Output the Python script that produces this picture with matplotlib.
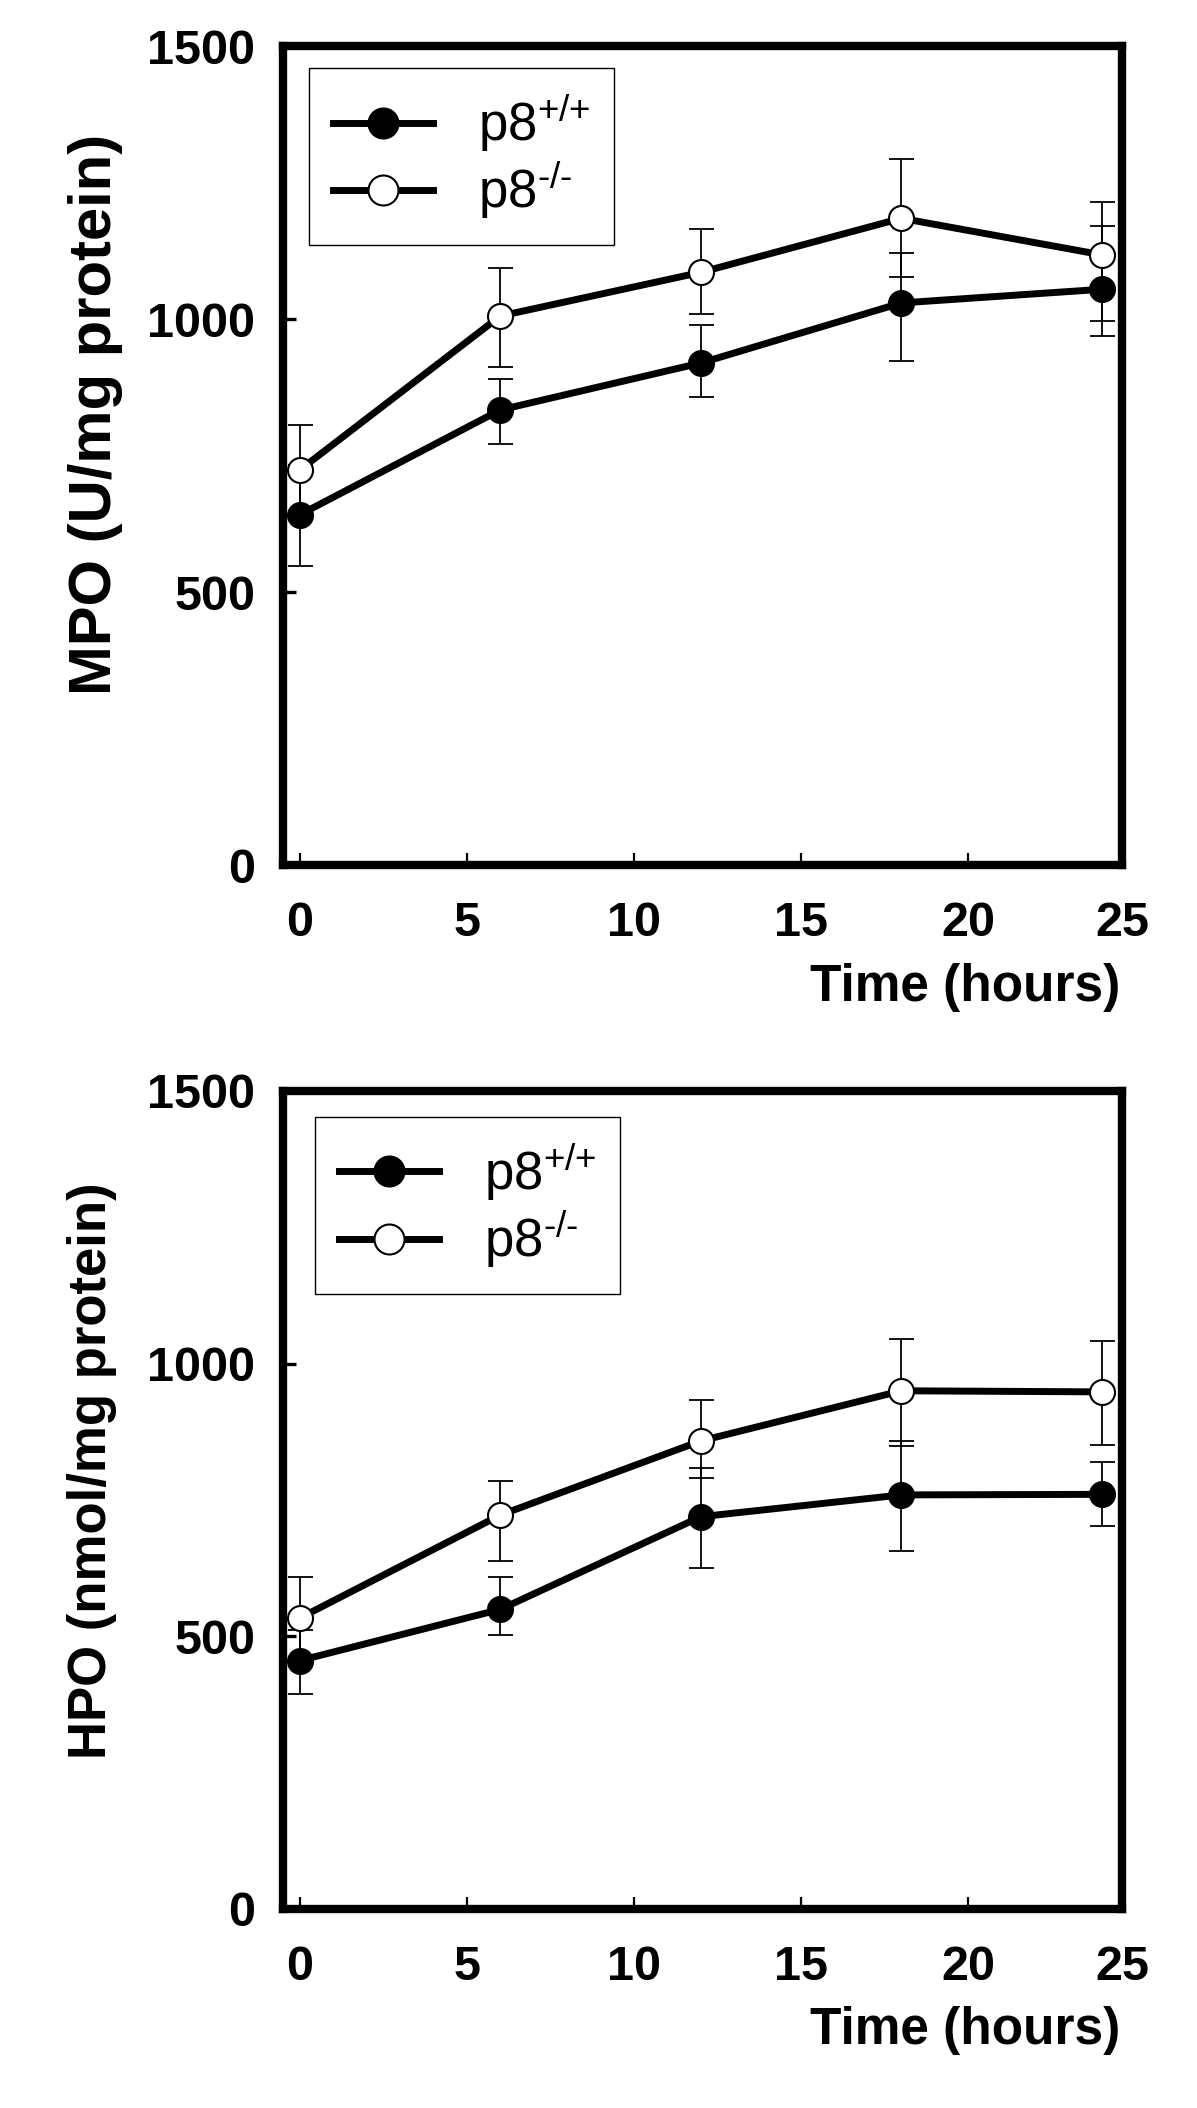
import matplotlib
matplotlib.use("Agg")
import matplotlib.pyplot as plt

plt.rcParams['font.family'] = ['Liberation Sans', 'DejaVu Sans']
plt.rcParams['mathtext.fontset'] = 'custom'
plt.rcParams['mathtext.rm'] = 'Liberation Sans'
plt.rcParams['mathtext.it'] = 'Liberation Sans'
plt.rcParams['mathtext.bf'] = 'Liberation Sans:bold'

# ---------------- data ----------------
time_h = [0, 6, 12, 18, 24]

mpo_wt = [642, 834, 920, 1030, 1055]
mpo_wt_lo = [93, 62, 62, 106, 86]
mpo_wt_hi = [92, 57, 69, 91, 115]
mpo_ko = [724, 1006, 1086, 1185, 1118]
mpo_ko_lo = [82, 94, 77, 107, 122]
mpo_ko_hi = [82, 88, 80, 108, 97]

hpo_wt = [455, 549, 719, 759, 760]
hpo_wt_lo = [61, 47, 95, 103, 58]
hpo_wt_hi = [56, 59, 90, 99, 60]
hpo_ko = [533, 722, 858, 950, 948]
hpo_ko_lo = [75, 85, 68, 101, 98]
hpo_ko_hi = [75, 62, 75, 95, 93]

x_ticks = [0, 5, 10, 15, 20, 24.6]
x_tick_labels = ['0', '5', '10', '15', '20', '25']
y_ticks = [0, 500, 1000, 1500]
y_tick_labels = ['0', '500', '1000', '1500']

label_wt = r'p8$^{\text{+/+}}$'
label_ko = r'p8$^{\text{-/-}}$'

W, H = 1197, 2108
fig = plt.figure(figsize=(W / 100, H / 100), dpi=100)

def axes_px(left, top, right, bottom):
    return fig.add_axes([left / W, 1 - bottom / H, (right - left) / W, (bottom - top) / H])

ax1 = axes_px(283, 46.3, 1122, 865.3)
ax2 = axes_px(283, 1091.0, 1122, 1908.6)

def draw_panel(ax, wt, wt_lo, wt_hi, ko, ko_lo, ko_hi, ylabel_text, ylabel_size,
               legend_anchor):
    for m, lo, hi in ((wt, wt_lo, wt_hi), (ko, ko_lo, ko_hi)):
        ax.errorbar(time_h, m, yerr=[lo, hi], fmt='none', ecolor='black',
                    elinewidth=1.3, capsize=9, capthick=1.3, zorder=2)
    ax.plot(time_h, wt, '-o', color='black', lw=5, ms=18, mfc='black', mec='black',
            mew=1.5, zorder=3, label=label_wt)
    ax.plot(time_h, ko, '-o', color='black', lw=5, ms=18, mfc='white', mec='black',
            mew=1.5, zorder=3, label=label_ko)
    ax.set_xlim(-0.5, 24.55)
    ax.set_ylim(0, 1500)
    ax.set_xticks(x_ticks)
    ax.set_xticklabels(x_tick_labels)
    ax.set_yticks(y_ticks)
    ax.set_yticklabels(y_tick_labels)
    ax.xaxis.get_major_ticks()[-1].tick1line.set_visible(False)
    ax.tick_params(axis='x', direction='in', length=9, width=1.6, pad=26,
                   labelsize=35, top=False)
    ax.tick_params(axis='y', direction='in', length=9, width=2.4, pad=20,
                   labelsize=35, right=False)
    for lab in ax.get_xticklabels() + ax.get_yticklabels():
        lab.set_fontweight('bold')
    for sp in ax.spines.values():
        sp.set_linewidth(6)
        sp.set_color('black')
    ax.set_xlabel('Time (hours)', fontsize=37, fontweight='bold')
    ax.xaxis.set_label_coords(0.998, -0.166)
    ax.xaxis.label.set_horizontalalignment('right')
    ax.xaxis.label.set_verticalalignment('baseline')
    ax.set_ylabel(ylabel_text, fontsize=ylabel_size, fontweight='bold')
    leg = ax.legend(loc='upper left', bbox_to_anchor=legend_anchor, borderaxespad=0,
                    frameon=True, fancybox=False, framealpha=1, edgecolor='black',
                    fontsize=38, handlelength=1.9, handletextpad=0.85,
                    borderpad=0.45, labelspacing=0.1, markerscale=1.2)
    leg.get_frame().set_linewidth(1.0)
    return ax

draw_panel(ax1, mpo_wt, mpo_wt_lo, mpo_wt_hi, mpo_ko, mpo_ko_lo, mpo_ko_hi,
           'MPO (U/mg protein)', 43, (0.031, 0.973))
draw_panel(ax2, hpo_wt, hpo_wt_lo, hpo_wt_hi, hpo_ko, hpo_ko_lo, hpo_ko_hi,
           'HPO (nmol/mg protein)', 38, (0.038, 0.968))

ax1.yaxis.set_label_coords(-0.191, 0.55)
ax2.yaxis.set_label_coords(-0.198, 0.535)

fig.savefig('out.png', dpi=100, facecolor='white')
